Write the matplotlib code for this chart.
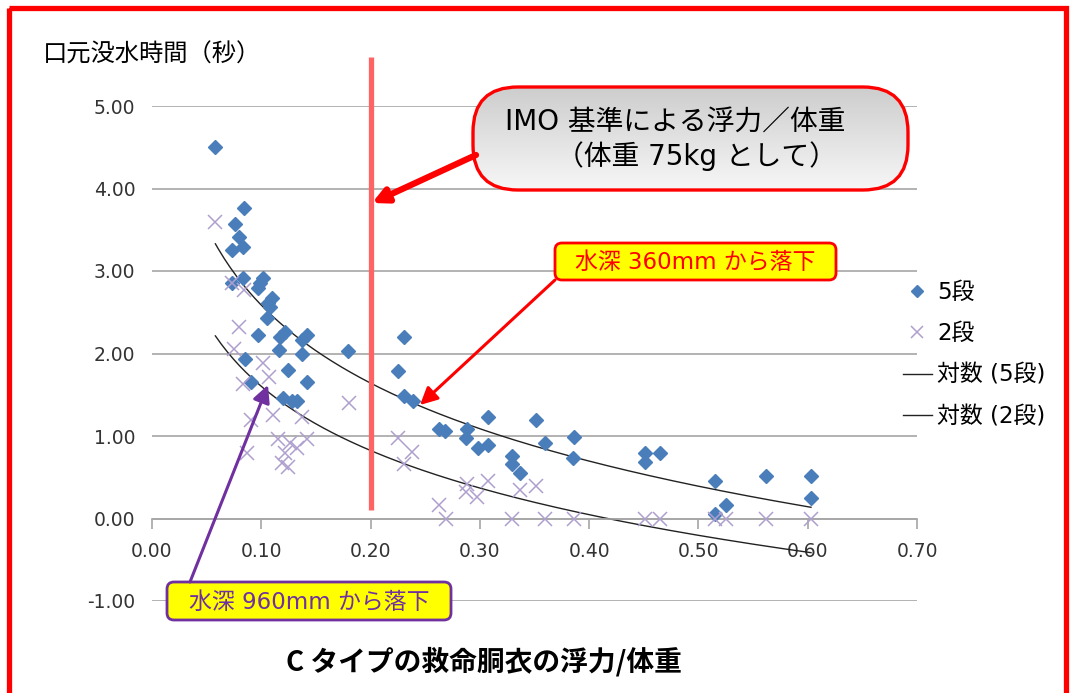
import numpy as np
import matplotlib
matplotlib.use('Agg')
import matplotlib.pyplot as plt
from matplotlib.patches import FancyBboxPatch, Rectangle

plt.rcParams['font.family'] = ['DejaVu Sans', 'Noto Sans CJK JP']

# 5段 : 浮力/体重 と 口元没水時間
x5 = [0.058, 0.084, 0.076, 0.080, 0.083, 0.073, 0.083, 0.073, 0.102, 0.099,
      0.097, 0.110, 0.106, 0.108, 0.105, 0.097, 0.117, 0.122, 0.142, 0.137,
      0.116, 0.137, 0.179, 0.085, 0.124, 0.142, 0.091, 0.120, 0.128, 0.133,
      0.231, 0.225, 0.231, 0.239, 0.263, 0.268, 0.288, 0.287, 0.307, 0.298,
      0.307, 0.329, 0.329, 0.337, 0.351, 0.360, 0.386, 0.385,
      0.451, 0.451, 0.465, 0.515, 0.515, 0.525, 0.562, 0.603, 0.603]
y5 = [4.50, 3.76, 3.57, 3.41, 3.29, 3.26, 2.92, 2.86, 2.92, 2.85,
      2.80, 2.67, 2.61, 2.56, 2.43, 2.22, 2.20, 2.26, 2.23, 2.16,
      2.04, 2.00, 2.03, 1.93, 1.80, 1.66, 1.65, 1.46, 1.42, 1.42,
      2.20, 1.79, 1.49, 1.42, 1.09, 1.06, 1.09, 0.98, 1.23, 0.86,
      0.89, 0.76, 0.66, 0.55, 1.20, 0.92, 0.99, 0.73,
      0.79, 0.68, 0.79, 0.45, 0.06, 0.16, 0.52, 0.52, 0.25]

# 2段
x2 = [0.058, 0.073, 0.084, 0.080, 0.075, 0.102, 0.107, 0.083, 0.180, 0.091,
      0.111, 0.137, 0.115, 0.126, 0.142, 0.133, 0.122, 0.087, 0.119, 0.124,
      0.225, 0.238, 0.231, 0.263, 0.269, 0.288, 0.287, 0.297, 0.307, 0.329,
      0.337, 0.351, 0.360, 0.386, 0.451, 0.465, 0.515, 0.525, 0.562, 0.603]
y2 = [3.59, 2.85, 2.77, 2.32, 2.06, 1.89, 1.72, 1.63, 1.40, 1.19,
      1.25, 1.23, 0.96, 0.92, 0.96, 0.86, 0.79, 0.79, 0.67, 0.62,
      0.98, 0.81, 0.66, 0.16, 0.00, 0.42, 0.32, 0.26, 0.45, 0.00,
      0.35, 0.39, 0.00, 0.00, 0.00, 0.00, 0.00, 0.00, 0.00, 0.00]

imo_x = 0.20          # IMO 基準の浮力/体重
imo_span = (0.10, 5.59)

xticks = np.arange(0, 0.71, 0.1)
yticks = np.arange(-1, 5.01, 1)

W, H = 1070, 693
fig = plt.figure(figsize=(W / 100, H / 100), dpi=100)
ax = fig.add_axes([152 / W, 1 - 601 / H, (917 - 152) / W, (601 - 106) / H])

blue = '#4A7EBB'
lav = '#AE9FCF'

ax.plot(x5, y5, 'D', color=blue, ms=7.5, mec=blue, label='5段', zorder=3)
ax.plot(x2, y2, 'x', color=lav, ms=10, mew=1.1, label='2段', zorder=3)


def logfit(x, y):
    x = np.asarray(x)
    a, b = np.polyfit(np.log(x), np.asarray(y), 1)
    xs = np.linspace(x.min(), x.max(), 200)
    return xs, a * np.log(xs) + b


xs, ys = logfit(x5, y5)
ax.plot(xs, ys, color='#222222', lw=1.0, label='対数 (5段)', zorder=2)
xs, ys = logfit(x2, y2)
ax.plot(xs, ys, color='#222222', lw=1.0, label='対数 (2段)', zorder=2)

ax.plot([imo_x, imo_x], imo_span, color='#FF6464', lw=3.8, clip_on=False,
        solid_capstyle='butt', zorder=4)

ax.set_xlim(0, 0.70)
ax.set_ylim(-1, 5)
ax.set_xticks(xticks)
ax.set_yticks(yticks)
ax.set_xticklabels(['%.2f' % v for v in xticks])
ax.set_yticklabels(['%.2f' % v for v in yticks])
ax.yaxis.grid(True, color='#A6A6A6', lw=1.2)
ax.set_axisbelow(True)
for s in ['top', 'right', 'left']:
    ax.spines[s].set_visible(False)
ax.spines['bottom'].set_position(('data', 0))
ax.spines['bottom'].set_color('#A6A6A6')
ax.spines['bottom'].set_linewidth(1.2)
ax.tick_params(axis='x', direction='out', length=7, color='#A6A6A6',
               width=1.2, labelsize=13.5, labelcolor='#333333', pad=10)
ax.tick_params(axis='y', length=0, labelsize=13.5, labelcolor='#333333', pad=12)

leg = ax.legend(loc='upper left', bbox_to_anchor=(903 / W, 1 - 281 / H),
                bbox_transform=fig.transFigure, frameon=False, fontsize=16.5,
                handlelength=1.25, handletextpad=0.25, labelspacing=0.8,
                borderaxespad=0, borderpad=0, markerscale=0.8)

# 注記用のピクセル座標レイヤー
ov = fig.add_axes([0, 0, 1, 1], zorder=5)
ov.set_xlim(0, W)
ov.set_ylim(H, 0)
ov.axis('off')
ov.patch.set_alpha(0)

ov.add_patch(Rectangle((9, 7.5), 1057, 720, fill=False, ec='red', lw=3.8,
                       clip_on=False))

ov.text(43, 55, '口元没水時間（秒）', fontsize=17.5, va='center', ha='left',
        family=['Noto Sans CJK JP'])
ov.text(484, 662, 'C タイプの救命胴衣の浮力/体重', fontsize=20, va='center',
        ha='center', fontweight='bold', family=['Noto Sans CJK JP'])

# IMO 基準の吹き出し
box = FancyBboxPatch((473 + 45, 87 + 45), 435 - 90, 103 - 90,
                     boxstyle='round,pad=45', fc='none', ec='red', lw=2.4,
                     zorder=3)
ov.add_patch(box)
grad = np.linspace(0, 1, 256).reshape(-1, 1)
im = ov.imshow(grad, cmap=matplotlib.colors.LinearSegmentedColormap.from_list(
    'g', ['#CDCDCD', '#F7F7F7']), extent=(473, 908, 190, 87),
    aspect='auto', zorder=2)
im.set_clip_path(box)
ov.set_xlim(0, W)
ov.set_ylim(H, 0)
ov.text(505, 123, 'IMO 基準による浮力／体重', fontsize=20, va='center',
        ha='left', zorder=4)
ov.text(556, 156, '（体重 75kg として）', fontsize=20, va='center',
        ha='left', zorder=4)
ov.annotate('', xy=(372, 203), xytext=(476, 155),
            arrowprops=dict(arrowstyle='-|>', color='red', lw=4.5,
                            mutation_scale=22, shrinkA=0, shrinkB=0))


def label_box(x0, y0, x1, y1, text, color):
    ov.add_patch(FancyBboxPatch((x0, y0), x1 - x0, y1 - y0,
                                boxstyle='round,pad=0,rounding_size=7',
                                fc='yellow', ec=color, lw=2, zorder=3))
    ov.text((x0 + x1) / 2, (y0 + y1) / 2 + 1, text, fontsize=16.5,
            color=color, va='center', ha='center', zorder=4)


# 水深 360mm
label_box(555, 243, 836, 280, '水深 360mm から落下', 'red')
ov.annotate('', xy=(420, 405), xytext=(555, 280),
            arrowprops=dict(arrowstyle='-|>', color='red', lw=2.2,
                            mutation_scale=26, shrinkA=0, shrinkB=0))

# 水深 960mm
purple = '#7030A0'
label_box(167, 582, 451, 620, '水深 960mm から落下', purple)
ov.annotate('', xy=(268, 385), xytext=(190, 582),
            arrowprops=dict(arrowstyle='-|>', color=purple, lw=2.2,
                            mutation_scale=26, shrinkA=0, shrinkB=0))

fig.savefig('out.png', dpi=100)
